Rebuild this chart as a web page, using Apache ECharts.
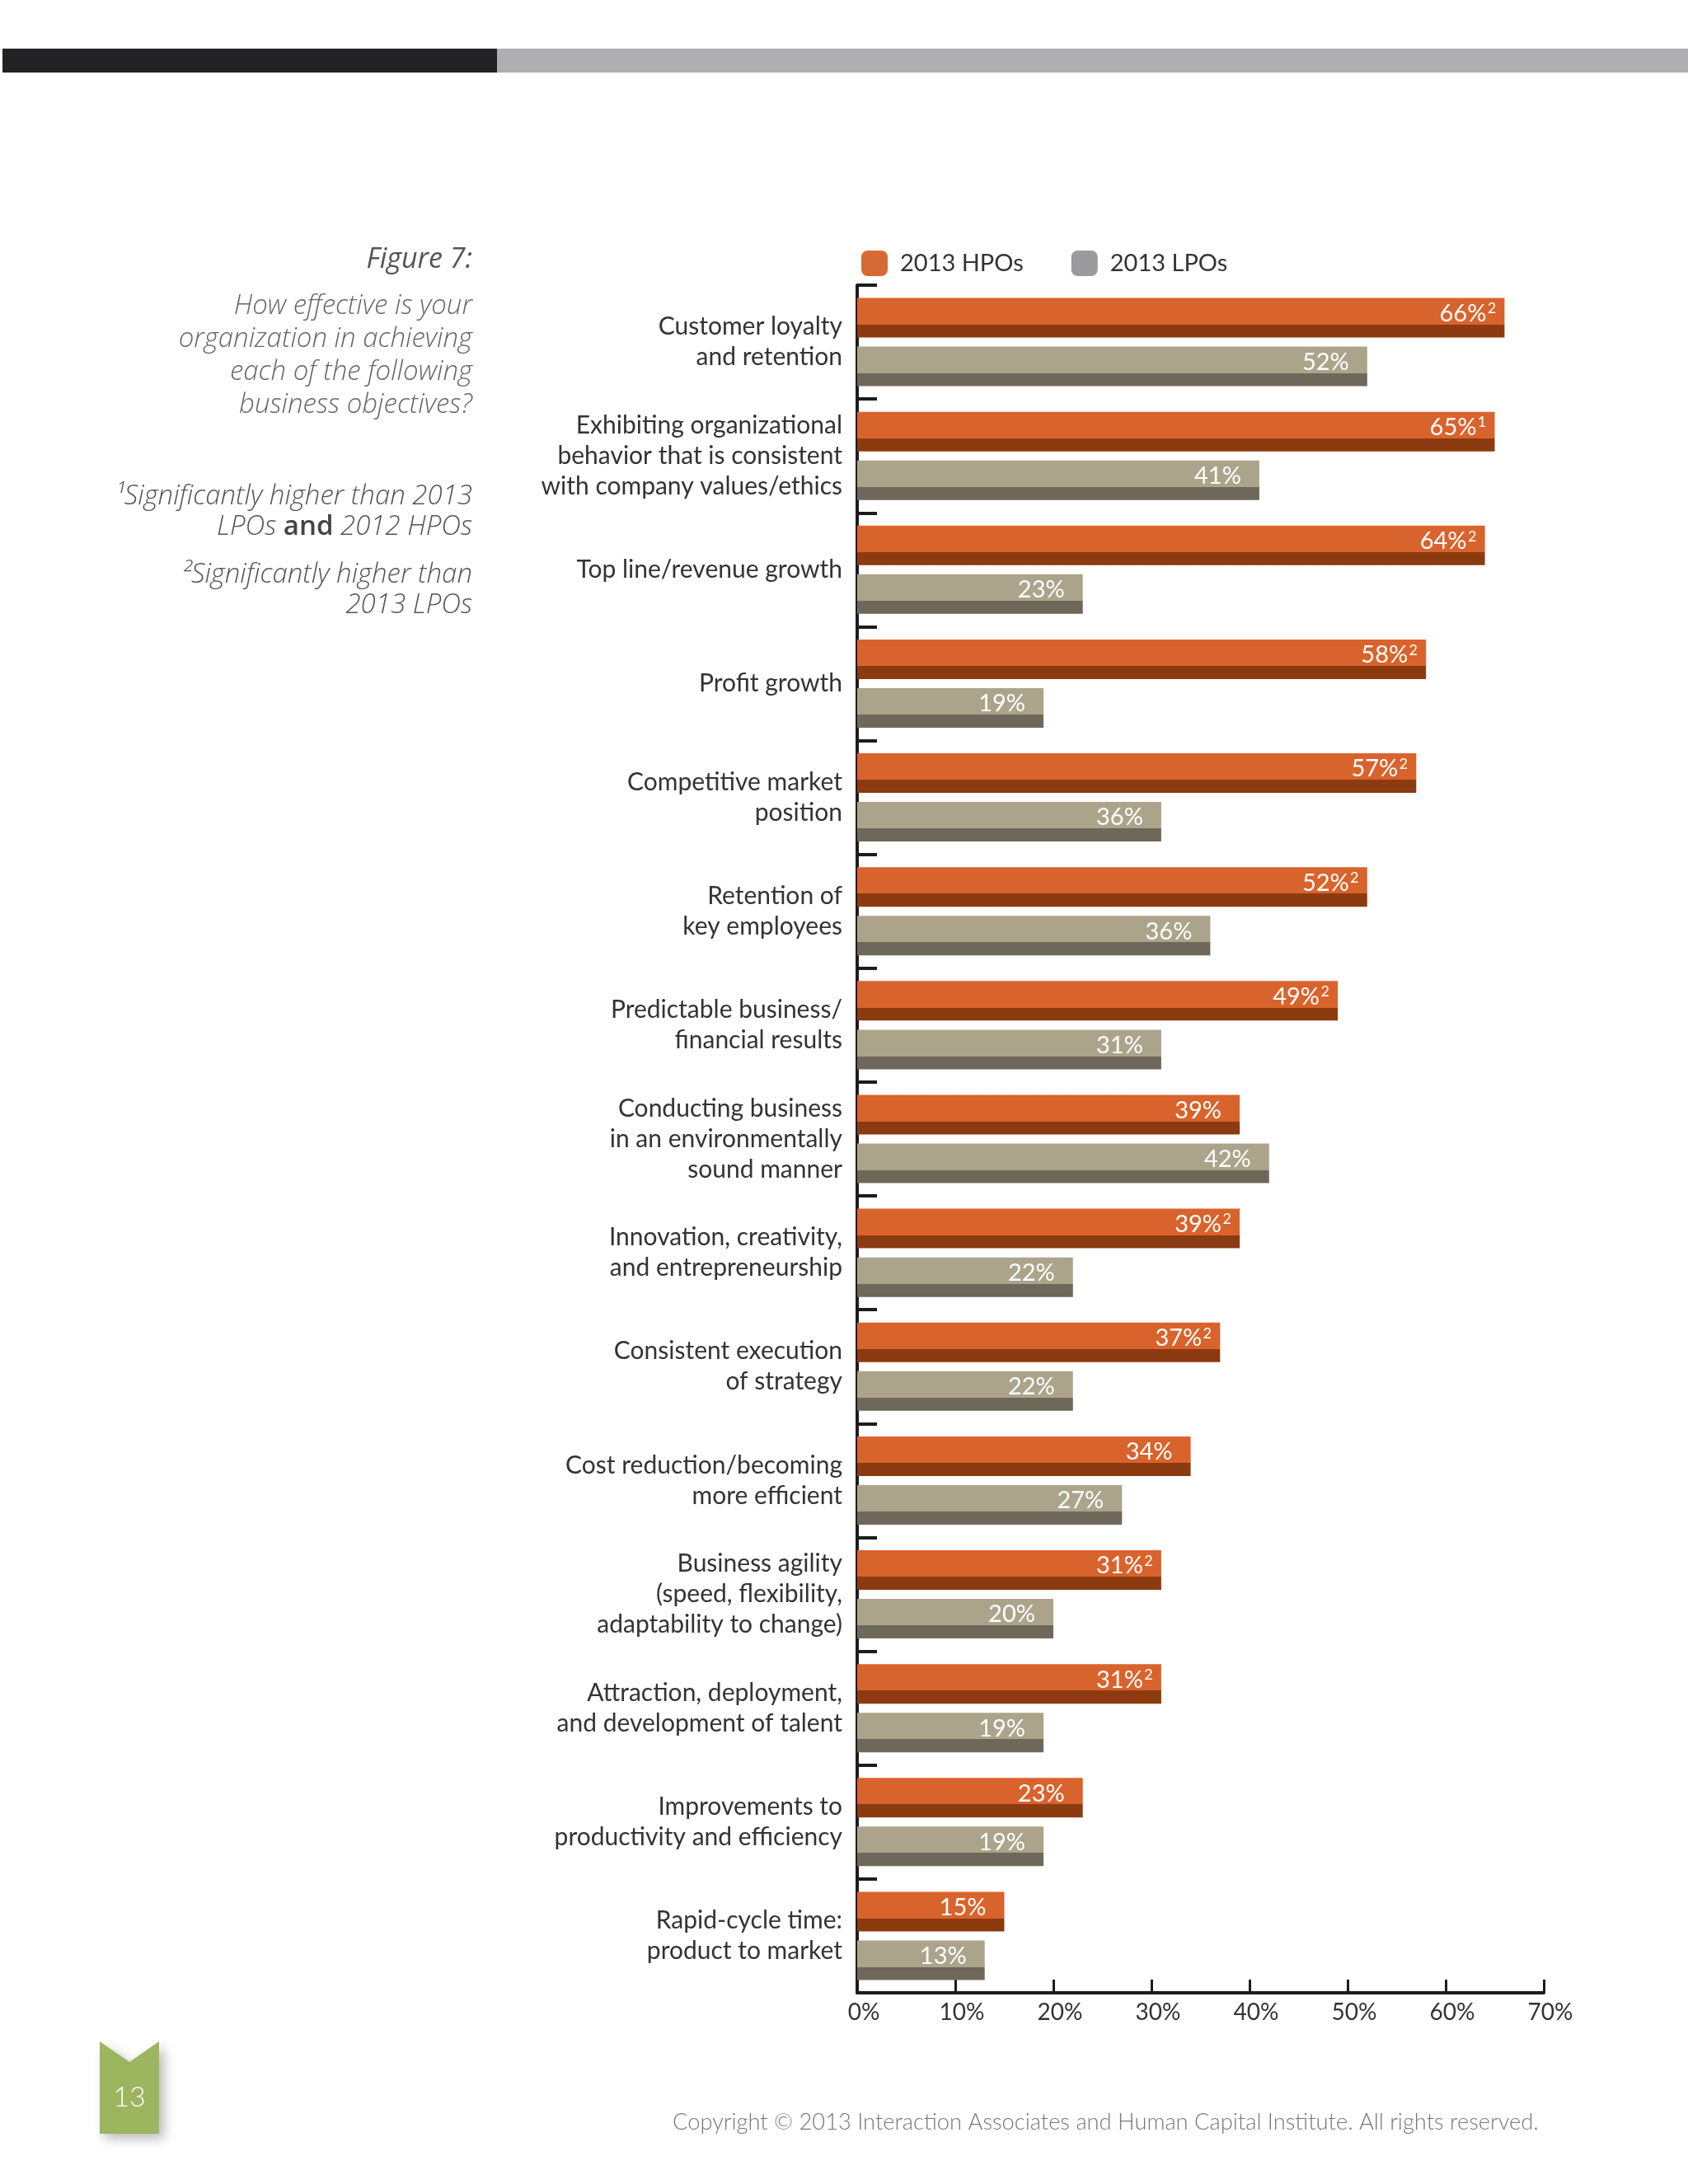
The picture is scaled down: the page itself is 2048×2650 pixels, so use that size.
<!DOCTYPE html>
<html>
<head>
<meta charset="utf-8">
<script src="https://cdn.jsdelivr.net/npm/echarts@6/dist/echarts.min.js"></script>
<style>
  html, body { margin: 0; padding: 0; background: #fff; }
  #chart { width: 2048px; height: 2650px; }
</style>
</head>
<body>
<div id="chart"></div>
<script>
// ---- data ----
var categories = [
  'Customer loyalty\nand retention',
  'Exhibiting organizational\nbehavior that is consistent\nwith company values/ethics',
  'Top line/revenue growth',
  'Profit growth',
  'Competitive market\nposition',
  'Retention of\nkey employees',
  'Predictable business/\nfinancial results',
  'Conducting business\nin an environmentally\nsound manner',
  'Innovation, creativity,\nand entrepreneurship',
  'Consistent execution\nof strategy',
  'Cost reduction/becoming\nmore efficient',
  'Business agility\n(speed, flexibility,\nadaptability to change)',
  'Attraction, deployment,\nand development of talent',
  'Improvements to\nproductivity and efficiency',
  'Rapid-cycle time:\nproduct to market'
];
var hpoValues = [66, 65, 64, 58, 57, 52, 49, 39, 39, 37, 34, 31, 31, 23, 15];
var hpoNotes  = ['2', '1', '2', '2', '2', '2', '2', '', '2', '2', '', '2', '2', '', ''];
// bar lengths as drawn (the competitive-market bar is drawn shorter than its label)
var lpoValues = [52, 41, 23, 19, 31, 36, 31, 42, 22, 22, 27, 20, 19, 19, 13];
var lpoLabels = ['52%', '41%', '23%', '19%', '36%', '36%', '31%', '42%', '22%', '22%', '27%', '20%', '19%', '19%', '13%'];
var xTicks = [0, 10, 20, 30, 40, 50, 60, 70];

var FONT = 'Lato, "Open Sans", sans-serif';
var SIDE = '"Open Sans", Lato, sans-serif';

function twoTone(light, dark) {
  return new echarts.graphic.LinearGradient(0, 0, 0, 1, [
    {offset: 0, color: light},
    {offset: 0.67, color: light},
    {offset: 0.67, color: dark},
    {offset: 1, color: dark}
  ]);
}

var labelRich = {
  v: {fontSize: 29, color: '#fff', fontFamily: FONT, lineHeight: 30},
  s: {fontSize: 18, color: '#fff', fontFamily: FONT, lineHeight: 18, verticalAlign: 'top', width: 11, align: 'left', padding: [0, 0, 0, 1]}
};

var myChart = echarts.init(document.getElementById('chart'));
myChart.setOption({
  backgroundColor: '#ffffff',
  animation: false,
  textStyle: {fontFamily: FONT},
  legend: {
    left: 1040,
    top: 299,
    itemWidth: 32,
    itemHeight: 31,
    itemGap: 58,
    icon: 'roundRect',
    textStyle: {fontSize: 29, color: '#333', fontFamily: FONT, padding: [0, 0, 0, 10]},
    data: [
      {name: '2013 HPOs', itemStyle: {color: '#D66A35'}},
      {name: '2013 LPOs', itemStyle: {color: '#9B9A9D'}}
    ]
  },
  grid: {left: 1040, right: 175, top: 346, bottom: 232, containLabel: false},
  xAxis: {
    type: 'value',
    min: 0,
    max: 70,
    interval: 10,
    axisLine: {show: true, lineStyle: {color: '#1c1c1c', width: 4}},
    axisTick: {show: true, inside: true, length: 16, lineStyle: {color: '#1c1c1c', width: 3}},
    splitLine: {show: false},
    axisLabel: {
      fontSize: 28, color: '#333', fontFamily: FONT, margin: 10, padding: [0, 0, 0, 16],
      formatter: function (v) { return xTicks.indexOf(v) >= 0 ? v + '%' : ''; }
    }
  },
  yAxis: {
    type: 'category',
    inverse: true,
    data: categories,
    axisLine: {show: true, lineStyle: {color: '#1c1c1c', width: 4}},
    axisTick: {show: true, inside: true, length: 24, lineStyle: {color: '#1c1c1c', width: 4}},
    axisLabel: {fontSize: 30, color: '#333', fontFamily: FONT, lineHeight: 37, margin: 18, align: 'right'}
  },
  series: [
    {
      name: '2013 HPOs',
      type: 'bar',
      data: hpoValues,
      barWidth: 48,
      barGap: '23%',
      itemStyle: {color: twoTone('#D9632C', '#8C3A10')},
      label: {
        show: true,
        position: 'insideRight',
        distance: 10,
        offset: [0, -5],
        rich: labelRich,
        formatter: function (p) {
          return '{v|' + p.value + '%}{s|' + (hpoNotes[p.dataIndex] || ' ') + '}';
        }
      }
    },
    {
      name: '2013 LPOs',
      type: 'bar',
      data: lpoValues,
      barWidth: 48,
      itemStyle: {color: twoTone('#ACA38B', '#6E685A')},
      label: {
        show: true,
        position: 'insideRight',
        distance: 10,
        offset: [0, -5],
        rich: labelRich,
        formatter: function (p) {
          return '{v|' + lpoLabels[p.dataIndex] + '}{s| }';
        }
      }
    }
  ],
  graphic: [
    // page header band
    {type: 'rect', shape: {x: 3, y: 59, width: 600, height: 29}, style: {fill: '#222224'}},
    {type: 'rect', shape: {x: 603, y: 59, width: 1445, height: 29}, style: {fill: '#AFAEB0'}},
    // left side caption
    {type: 'text', x: 573, y: 315, style: {text: 'Figure 7:', textAlign: 'right', textVerticalAlign: 'middle', font: 'italic 34px ' + SIDE, fill: '#555'}},
    {type: 'text', x: 573, y: 372, style: {text: 'How effective is your', textAlign: 'right', textVerticalAlign: 'middle', font: 'italic 300 33px ' + SIDE, fill: '#666'}},
    {type: 'text', x: 573, y: 412, style: {text: 'organization in achieving', textAlign: 'right', textVerticalAlign: 'middle', font: 'italic 300 33px ' + SIDE, fill: '#666'}},
    {type: 'text', x: 573, y: 452, style: {text: 'each of the following', textAlign: 'right', textVerticalAlign: 'middle', font: 'italic 300 33px ' + SIDE, fill: '#666'}},
    {type: 'text', x: 573, y: 492, style: {text: 'business objectives?', textAlign: 'right', textVerticalAlign: 'middle', font: 'italic 300 33px ' + SIDE, fill: '#666'}},
    {type: 'text', x: 573, y: 603, style: {text: '¹Significantly higher than 2013', textAlign: 'right', textVerticalAlign: 'middle', font: 'italic 300 33px ' + SIDE, fill: '#555'}},
    {type: 'text', x: 573, y: 640, style: {
      text: '{i|LPOs }{b|and}{i| 2012 HPOs}', textAlign: 'right', textVerticalAlign: 'middle',
      rich: {
        i: {fontStyle: 'italic', fontWeight: 300, fontSize: 33, fontFamily: SIDE, fill: '#555', color: '#555'},
        b: {fontStyle: 'normal', fontWeight: 600, fontSize: 33, fontFamily: SIDE, fill: '#444', color: '#444'}
      }
    }},
    {type: 'text', x: 573, y: 698, style: {text: '²Significantly higher than', textAlign: 'right', textVerticalAlign: 'middle', font: 'italic 300 33px ' + SIDE, fill: '#555'}},
    {type: 'text', x: 573, y: 735, style: {text: '2013 LPOs', textAlign: 'right', textVerticalAlign: 'middle', font: 'italic 300 33px ' + SIDE, fill: '#555'}},
    // page number tab
    {type: 'polygon', shape: {points: [[121, 2477], [157, 2502], [193, 2477], [193, 2589], [121, 2589]]},
      style: {fill: '#9CB55F', shadowBlur: 14, shadowOffsetX: 6, shadowOffsetY: 6, shadowColor: 'rgba(0,0,0,0.28)'}},
    {type: 'text', x: 157, y: 2545, style: {text: '13', textAlign: 'center', textVerticalAlign: 'middle', font: '300 34px ' + FONT, fill: '#fff'}},
    // footer
    {type: 'text', x: 816, y: 2575, style: {text: 'Copyright © 2013 Interaction Associates and Human Capital Institute. All rights reserved.', textAlign: 'left', textVerticalAlign: 'middle', font: '300 27.3px ' + FONT, fill: '#777'}}
  ]
});
</script>
</body>
</html>
